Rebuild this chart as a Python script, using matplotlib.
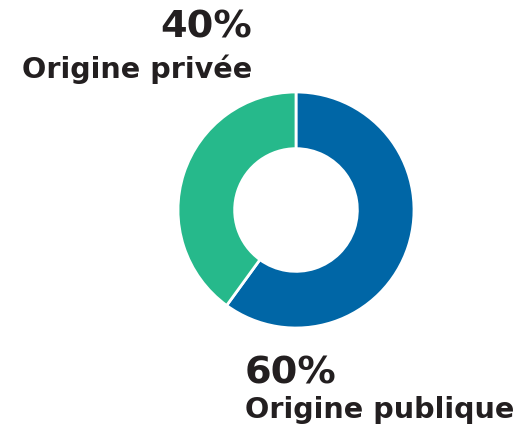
import matplotlib.pyplot as plt

# données
categories = ['Origine publique', 'Origine privée']
valeurs = [60, 40]
couleurs = ['#0066a6', '#26b98b']

W, H = 519, 430
fig = plt.figure(figsize=(W / 100, H / 100), dpi=100)

# anneau : centre (296, 210), rayon 118 px
cx, cy, r = 296, 210, 118
ax = fig.add_axes([(cx - r) / W, (H - cy - r) / H, 2 * r / W, 2 * r / H])
ax.pie(valeurs, colors=couleurs, startangle=90, counterclock=False,
       radius=1, wedgeprops=dict(width=0.48, edgecolor='white', linewidth=2))
ax.set_xlim(-1, 1)
ax.set_ylim(-1, 1)
ax.axis('off')

txt = '#231f20'
police = 'DejaVu Sans'

def texte(x, y, s, size, ha):
    fig.text(x / W, 1 - y / H, s, fontsize=size, fontweight='bold',
             family=police, color=txt, ha=ha, va='baseline')

texte(252, 38, f'{valeurs[1]}%', 27.5, 'right')
texte(252, 78, categories[1], 20.6, 'right')
texte(245, 384, f'{valeurs[0]}%', 27.5, 'left')
texte(245, 418, categories[0], 20.6, 'left')

fig.savefig('out.png', dpi=100)
